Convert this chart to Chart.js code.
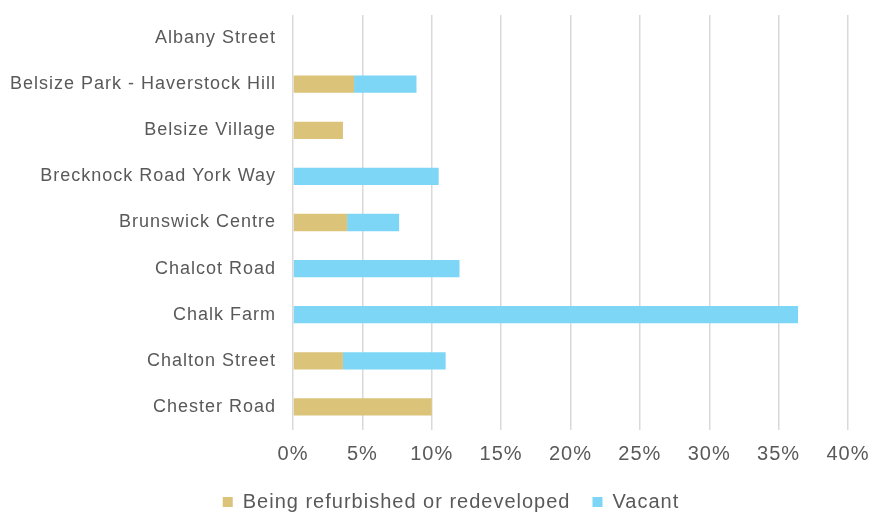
<!DOCTYPE html>
<html>
<head>
<meta charset="utf-8">
<script src="https://cdn.jsdelivr.net/npm/chart.js@4/dist/chart.umd.min.js"></script>
<style>
html,body{margin:0;padding:0;background:#fff;}
#wrap{width:874px;height:515px;position:relative;}
</style>
</head>
<body>
<div id="wrap"><canvas id="c" width="874" height="515"></canvas></div>
<script>
const categories = ["Albany Street","Belsize Park - Haverstock Hill","Belsize Village","Brecknock Road York Way","Brunswick Centre","Chalcot Road","Chalk Farm","Chalton Street","Chester Road"];
const refurbished = [0, 4.4, 3.6, 0, 3.9, 0, 0, 3.6, 10.0];
const vacant = [0, 4.5, 0, 10.5, 3.75, 12.0, 36.4, 7.4, 0];
const seriesNames = ["Being refurbished or redeveloped","Vacant"];
const xTicks = [0,5,10,15,20,25,30,35,40];

const FONT = "'Liberation Sans', Arial, sans-serif";
const TEXT = '#595959';

const spacing = {
  id: 'spacing',
  beforeUpdate(c){ c.ctx.letterSpacing = '1px'; },
  beforeLayout(c){ c.ctx.letterSpacing = '1px'; },
  afterLayout(c){ if (c.legend) { c.legend.left += 27; c.legend.right += 27; } },
  beforeDraw(c){ c.ctx.letterSpacing = '1px'; }
};

new Chart(document.getElementById('c'), {
  type: 'bar',
  plugins: [spacing],
  data: {
    labels: categories,
    datasets: [
      {label: seriesNames[0], data: refurbished, backgroundColor: '#DCC37A', categoryPercentage: 1, barPercentage: 0.375},
      {label: seriesNames[1], data: vacant, backgroundColor: '#7DD6F5', categoryPercentage: 1, barPercentage: 0.375}
    ]
  },
  options: {
    indexAxis: 'y',
    responsive: false,
    animation: false,
    layout: {padding: {top: 15, right: 26, left: 0, bottom: -7}},
    plugins: {
      legend: {
        position: 'bottom',
        labels: {boxWidth: 10, boxHeight: 10, color: TEXT, font: {family: FONT, size: 20}, padding: 22}
      },
      tooltip: {enabled: false}
    },
    scales: {
      x: {
        stacked: true, min: 0, max: 40,
        afterBuildTicks: s => { s.ticks = xTicks.map(v => ({value: v})); },
        ticks: {callback: v => v + '%', color: TEXT, font: {family: FONT, size: 20}, padding: 4, maxRotation: 0},
        grid: {color: '#D9D9D9', lineWidth: 1.5, drawTicks: true, tickLength: 8, tickColor: 'rgba(0,0,0,0)'},
        border: {display: false}
      },
      y: {
        stacked: true,
        afterFit: s => { s.width = 293; },
        ticks: {color: TEXT, font: {family: FONT, size: 18}, padding: 4},
        grid: {display: true, drawOnChartArea: false, drawTicks: true, tickLength: 13, color: 'rgba(0,0,0,0)', tickColor: 'rgba(0,0,0,0)'},
        border: {display: false}
      }
    }
  }
});
</script>
</body>
</html>
